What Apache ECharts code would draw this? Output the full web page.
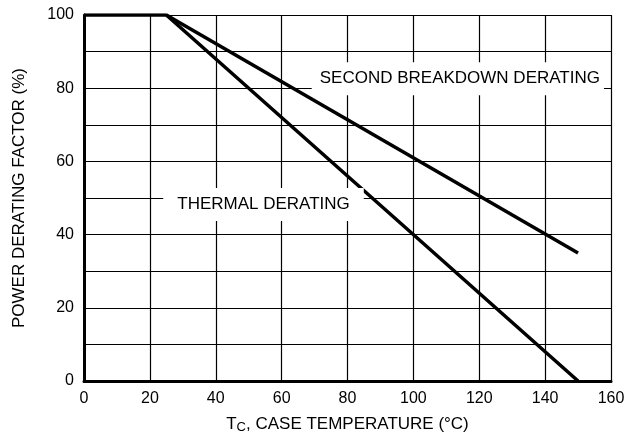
<!DOCTYPE html>
<html>
<head>
<meta charset="utf-8">
<script src="https://cdn.jsdelivr.net/npm/echarts@6/dist/echarts.min.js"></script>
<style>
  html, body { margin: 0; padding: 0; background: #fff; }
  #chart { width: 629px; height: 439px; }
</style>
</head>
<body>
<div id="chart"></div>
<script>
// case temperature (°C) vs power derating factor (%)
const thermalX = [0, 25, 150]
const thermalY = [100, 100, 0]
const breakdownX = [25, 150]
const breakdownY = [100, 35]
const xTicks = [0, 20, 40, 60, 80, 100, 120, 140, 160]
const yTicks = [0, 20, 40, 60, 80, 100]

const FONT = 'Liberation Sans'

const chart = echarts.init(document.getElementById('chart'))

function pairs(xs, ys) {
  return xs.map((x, i) => [x, ys[i]])
}

const lineStyle = { color: '#000', width: 3.5 }
const labelStyle = {
  show: true,
  position: 'inside',
  color: '#000',
  fontFamily: FONT,
  fontSize: 17,
  backgroundColor: '#fff',
}

chart.setOption({
  animation: false,
  grid: { left: 84, right: 18, top: 15, bottom: 57 },
  xAxis: {
    type: 'value',
    min: xTicks[0],
    max: xTicks[xTicks.length - 1],
    interval: 20,
    axisLine: { show: true, onZero: false, lineStyle: { color: '#000', width: 3 } },
    axisTick: { show: false },
    axisLabel: { color: '#000', fontFamily: FONT, fontSize: 16, margin: 10 },
    splitLine: { show: true, lineStyle: { color: '#000', width: 1.2 } },
    name: '{t|T}{s|C}{t|, CASE TEMPERATURE (°C)}',
    nameLocation: 'middle',
    nameGap: 33,
    nameTextStyle: {
      rich: {
        t: { fontFamily: FONT, fontSize: 17, color: '#000' },
        s: { fontFamily: FONT, fontSize: 13, color: '#000', verticalAlign: 'bottom', padding: [7, 0, 0, 0] },
      },
    },
  },
  yAxis: {
    type: 'value',
    min: yTicks[0],
    max: yTicks[yTicks.length - 1],
    interval: 10,
    axisLine: { show: true, onZero: false, lineStyle: { color: '#000', width: 3 } },
    axisTick: { show: false },
    axisLabel: {
      color: '#000',
      fontFamily: FONT,
      fontSize: 16,
      margin: 10,
      formatter: (v) => (yTicks.includes(v) ? String(v) : ''),
    },
    splitLine: { show: true, lineStyle: { color: '#000', width: 1.2 } },
    name: 'POWER DERATING FACTOR (%)',
    nameLocation: 'middle',
    nameGap: 56,
    nameTextStyle: { color: '#000', fontFamily: FONT, fontSize: 17 },
  },
  series: [
    {
      name: 'THERMAL DERATING',
      type: 'line',
      data: pairs(thermalX, thermalY),
      symbol: 'none',
      lineStyle,
      z: 3,
      markPoint: {
        symbol: 'circle',
        symbolSize: 0,
        data: [{ coord: [54.5, 48.2], value: 'THERMAL DERATING' }],
        label: { ...labelStyle, padding: [8, 14], formatter: '{c}' },
      },
    },
    {
      name: 'SECOND BREAKDOWN DERATING',
      type: 'line',
      data: pairs(breakdownX, breakdownY),
      symbol: 'none',
      lineStyle,
      z: 3,
      markPoint: {
        symbol: 'circle',
        symbolSize: 0,
        data: [{ coord: [113.5, 82.6], value: 'SECOND BREAKDOWN DERATING' }],
        label: { ...labelStyle, padding: [8, 4, 8, 8], formatter: '{c}' },
      },
    },
  ],
})
</script>
</body>
</html>
